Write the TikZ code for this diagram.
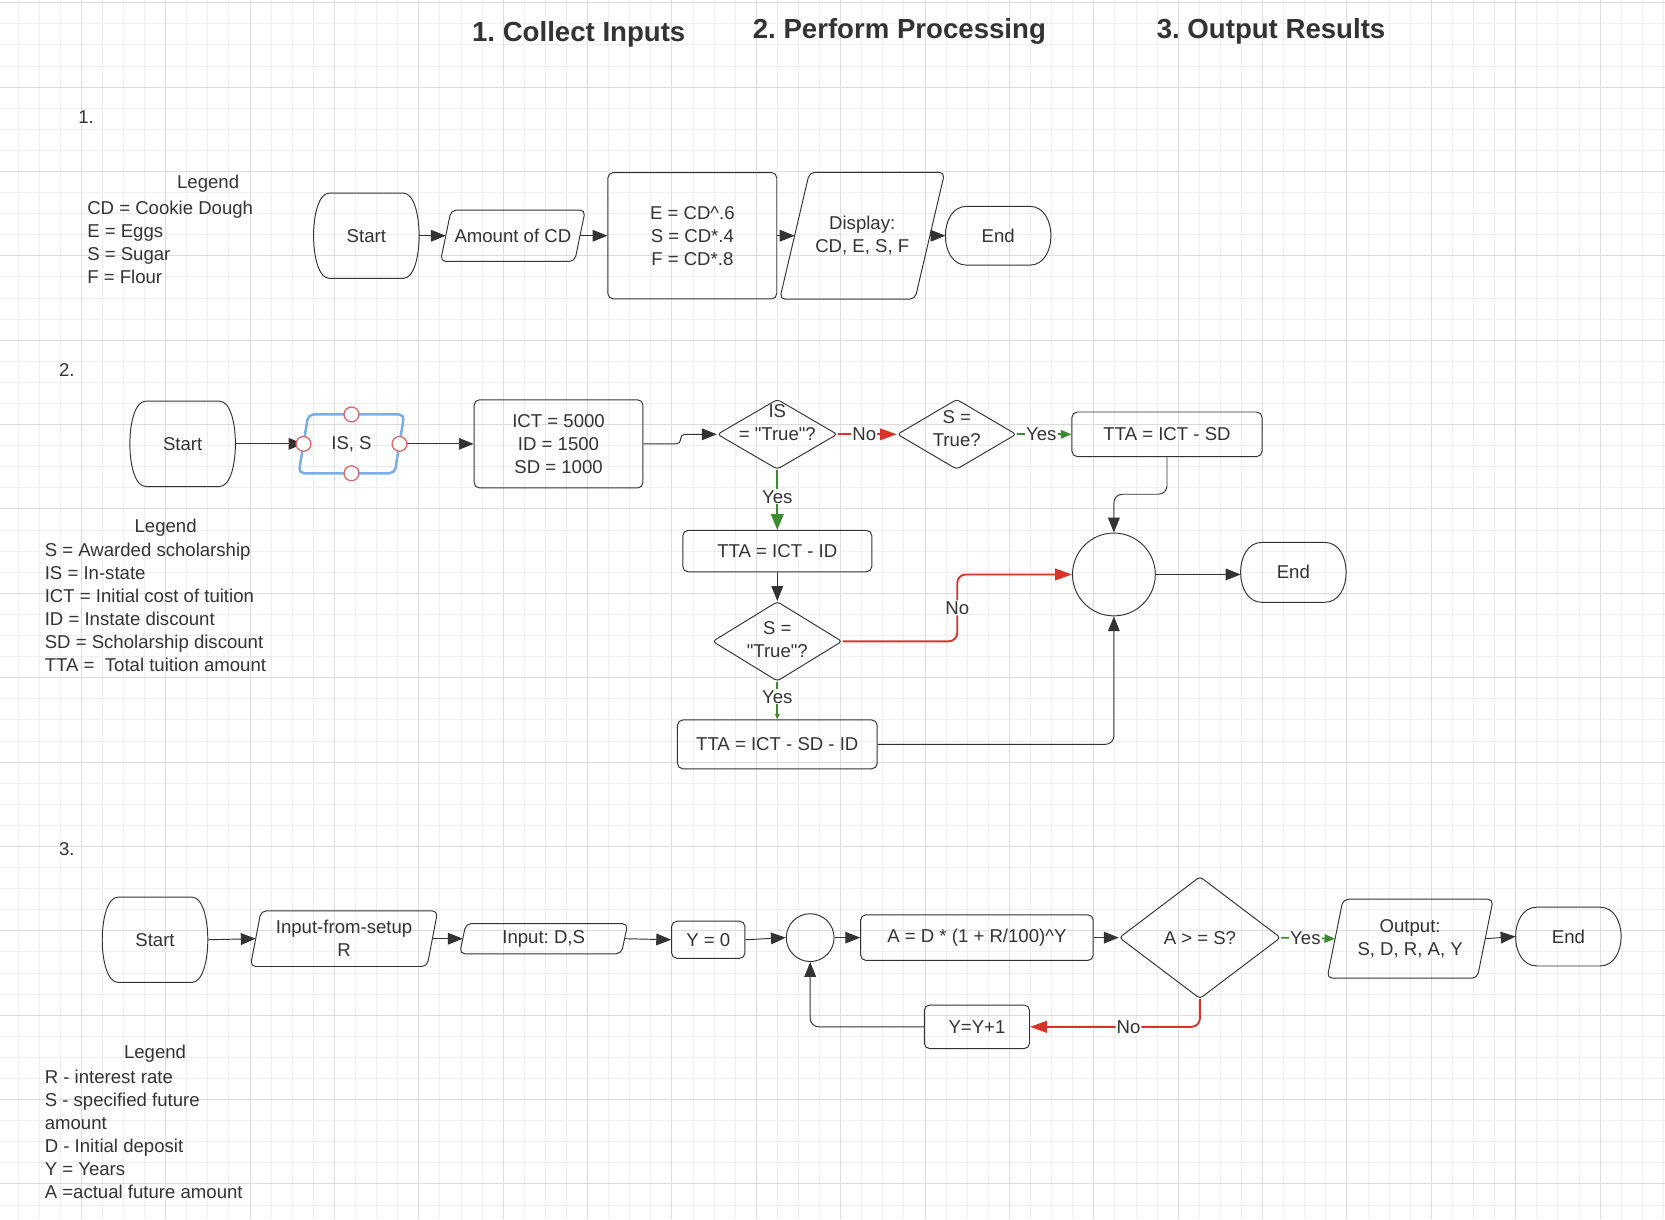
\documentclass[tikz,border=0pt]{standalone}
\usepackage{fontspec}
\setmainfont{Liberation Sans}
\newfontfamily\chartfont{Liberation Sans}
\usetikzlibrary{shapes.geometric}
\usetikzlibrary{arrows.meta}
\usetikzlibrary{calc}

\definecolor{linegray}{HTML}{333333}
\definecolor{textgray}{HTML}{333333}
\definecolor{nored}{HTML}{D9342B}
\definecolor{yesgreen}{HTML}{3D8B2F}
\definecolor{selblue}{HTML}{7AAEEB}
\definecolor{handlered}{HTML}{E06666}
\definecolor{gridminor}{HTML}{EEEEEE}
\definecolor{gridmajor}{HTML}{DCDCDC}

\tikzset{
  box/.style={draw=linegray, line width=0.9pt, text=textgray, align=center, inner sep=2pt},
  term/.style={rectangle, minimum width=99, text=textgray, align=center, inner sep=0pt},
  termline/.style={draw=linegray, line width=0.9pt},
  selected/.style={draw=selblue, line width=2.4pt},
  process/.style={box, rectangle, rounded corners=5},
  decision/.style={box, diamond, rounded corners=3, inner sep=0pt},
  junction/.style={box, circle, inner sep=0pt},
  note/.style={text=textgray, align=left, inner sep=0pt},
  title/.style={font=\chartfont\fontsize{26}{30}\selectfont\bfseries, text=textgray},
  flow/.style={draw=linegray, line width=0.9pt, -{Triangle[length=14pt, width=11pt]}},
  noflow/.style={draw=nored, line width=1.8pt, -{Triangle[length=16pt, width=11pt]}},
  yesflow/.style={draw=yesgreen, line width=1.6pt, -{Triangle[length=#1, width=0.8*#1]}},
  yesflow/.default=12pt,
  tag/.style={fill=white, text=textgray, inner sep=1pt},
  handle/.style={circle, draw=handlered, fill=white, line width=1.2pt, minimum size=14, inner sep=0pt},
  gridline/.style={draw=#1, line width=0.9pt},
}

% start/end shape: name, position, height, side bulge, text
\newcommand{\terminator}[5]{%
  \node[term, minimum height=#3] (#1) at (#2) {#5};
  \draw[termline] ($(#1.north west)+(#4,0)$) -- ($(#1.north east)+(-#4,0)$)
    to[out=0, in=0, distance={#4*4/3}] ($(#1.south east)+(-#4,0)$)
    -- ($(#1.south west)+(#4,0)$)
    to[out=180, in=180, distance={#4*4/3}] cycle;
}

% input/output shape: [outline style] name, position, width, height, slant, text
\newcommand{\slantbox}[7][]{%
  \node[term, minimum width={#4-#6}, minimum height=#5] (#2) at (#3) {#7};
  \draw[termline, rounded corners=5, #1] ($(#2.south west)+(-#6/2,0)$)
    -- ($(#2.north west)+(#6/2,0)$) -- ($(#2.north east)+(#6/2,0)$)
    -- ($(#2.south east)+(-#6/2,0)$) -- cycle;
}

\begin{document}
\frenchspacing
\begin{tikzpicture}[x=1pt, y=-1pt, font=\chartfont\fontsize{17.5}{21.7}\selectfont]
  \useasboundingbox (0,0) rectangle (1568,1148);
  \fill[white] (0,0) rectangle (1568,1148);

  % Grid
  \foreach \i in {0,...,79} {
    \draw[gridline=gridminor] ({-2.9+19.865*\i},0) -- ({-2.9+19.865*\i},1148);
  }
  \foreach \j in {0,...,57} {
    \draw[gridline=gridminor] (0,{2.54+19.865*\j}) -- (1568,{2.54+19.865*\j});
  }
  \foreach \i in {0,...,19} {
    \draw[gridline=gridmajor] ({-2.9+79.46*\i},0) -- ({-2.9+79.46*\i},1148);
  }
  \foreach \j in {0,...,14} {
    \draw[gridline=gridmajor] (0,{2.54+79.46*\j}) -- (1568,{2.54+79.46*\j});
  }

  % Headings
  \node[title] (title_inputs) at (545,32) {1. Collect Inputs};
  \node[title] (title_processing) at (847,30) {2. Perform Processing};
  \node[title] (title_output) at (1197,30) {3. Output Results};

  \node[note] (num_1) at (81,110) {1.};
  \node[note] (num_2) at (63,348) {2.};
  \node[note] (num_3) at (63,800) {3.};

  % Legends
  \node[note] (legend_1_head) at (196,173) {Legend};
  \node[note, anchor=west] (legend_1) at (82,228) {CD = Cookie Dough\\E = Eggs\\S = Sugar\\F = Flour};
  \node[note] (legend_2_head) at (156,497) {Legend};
  \node[note, anchor=west] (legend_2) at (42,572) {S = Awarded scholarship\\IS = In-state\\ICT = Initial cost of tuition\\ID = Instate discount\\SD = Scholarship discount\\TTA =\ \ Total tuition amount};
  \node[note] (legend_3_head) at (146,992) {Legend};
  \node[note, anchor=west] (legend_3) at (42,1068) {R - interest rate\\S - specified future\\amount\\D - Initial deposit\\Y = Years\\A =actual future amount};

  % Flow 1
  \terminator{start_1}{345,222}{80}{15}{Start}
  \slantbox{amount_cd}{483,222}{136}{48}{10}{Amount of CD}
  \node[process, minimum width=159, minimum height=119] (calc_1) at (652,222) {E = CD\textasciicircum.6\\S = CD*.4\\F = CD*.8};
  \slantbox{display_1}{812,222}{155}{119}{28}{Display:\\CD, E, S, F}
  \terminator{end_1}{940,222}{55}{20}{End}

  \draw[flow] (start_1.east) -- (amount_cd.west);
  \draw[flow] (amount_cd.east) -- (calc_1.west);
  \draw[flow] (calc_1.east) -- (display_1.west);
  \draw[flow] (display_1.east) -- (end_1.west);

  % Flow 2
  \terminator{start_2}{172,418}{80}{15}{Start}
  \slantbox[selected]{in_is_s}{331,418}{99}{55}{9}{IS, S}
  \node[process, minimum width=159, minimum height=83] (costs) at (526,418) {ICT = 5000\\ID = 1500\\SD = 1000};
  \node[decision, minimum width=113, minimum height=66] (is_check) at (732,409) {};
  \node[note, align=center] (is_check_text) at (732,398) {IS\\= "True"?};
  \node[decision, minimum width=112, minimum height=66] (s_check_a) at (901,409) {};
  \node[note, align=center] (s_check_a_text) at (901,404) {S =\\True?};
  \node[process, minimum width=179, minimum height=42] (tta_sd) at (1099,409) {TTA = ICT - SD};
  \node[process, minimum width=178, minimum height=39] (tta_id) at (732,519) {TTA = ICT - ID};
  \node[decision, minimum width=122, minimum height=75] (s_check_b) at (732,604) {};
  \node[note, align=center] (s_check_b_text) at (732,602) {S =\\"True"?};
  \node[process, minimum width=188, minimum height=46] (tta_sd_id) at (732,701) {TTA = ICT - SD - ID};
  \node[junction, minimum size=78] (merge_2) at (1049,541) {};
  \terminator{end_2}{1218,539}{56}{20}{End}

  \draw[flow] (start_2.east) -- (in_is_s.west);
  \draw[flow] (in_is_s.east) -- (costs.west);
  \draw[flow, rounded corners=4] (costs.east) -- ++(35,0) |- (is_check.west);
  \draw[noflow] (is_check.east) -- node[tag, pos=0.45] {No} (s_check_a.west);
  \draw[yesflow=10pt] (s_check_a.east) -- node[tag, pos=0.45] {Yes} (tta_sd.west);
  \draw[yesflow=15pt] (is_check.south) -- node[tag, pos=0.45] {Yes} (tta_id.north);
  \draw[flow] (tta_id.south) -- (s_check_b.north);
  \draw[noflow, rounded corners=8] (s_check_b.east) -- ++(108,0) |- node[tag, pos=0.25] {No} (merge_2.west);
  \draw[yesflow=5pt] (s_check_b.south) -- node[tag, pos=0.4] {Yes} (tta_sd_id.north);
  \draw[flow, rounded corners=8] (tta_sd.south) -- ++(0,35) -| (merge_2.north);
  \draw[flow, rounded corners=8] (tta_sd_id.east) -| (merge_2.south);
  \draw[flow] (merge_2.east) -- (merge_2.east -| end_2.west);

  % selection handles on the input box
  \foreach \side in {north,south,east,west} {
    \node[handle] (in_is_s_\side) at (in_is_s.\side) {};
  }

  % Flow 3
  \terminator{start_3}{146,885}{80}{15}{Start}
  \slantbox{setup_r}{324,884}{176}{52}{10}{Input-from-setup\\R}
  \slantbox{input_ds}{512,884}{158}{28}{6}{Input: D,S}
  \node[process, minimum width=69, minimum height=35] (year_zero) at (667,885) {Y = 0};
  \node[junction, minimum size=45] (loop_3) at (763,883) {};
  \node[process, minimum width=219, minimum height=43] (amount_calc) at (920,883) {A = D * (1 + R/100)\textasciicircum Y};
  \node[decision, minimum width=152, minimum height=115] (goal_check) at (1130,883) {A > = S?};
  \slantbox{output_3}{1328,884}{156}{74}{15}{Output:\\S, D, R, A, Y}
  \terminator{end_3}{1477,882}{55}{20}{End}
  \node[process, minimum width=99, minimum height=41] (year_next) at (920,967) {Y=Y+1};

  \draw[flow] (start_3.east) -- (setup_r.west);
  \draw[flow] (setup_r.east) -- (input_ds.west);
  \draw[flow] (input_ds.east) -- (year_zero.west);
  \draw[flow] (year_zero.east) -- (loop_3.west);
  \draw[flow] (loop_3.east) -- (amount_calc.west);
  \draw[flow] (amount_calc.east) -- (goal_check.west);
  \draw[yesflow=10pt] (goal_check.east) -- node[tag, pos=0.45] {Yes} (output_3.west);
  \draw[flow] (output_3.east) -- (end_3.west);
  \draw[noflow, rounded corners=8] (goal_check.south) |- node[tag, pos=0.71] {No} (year_next.east);
  \draw[flow, rounded corners=8] (year_next.west) -| (loop_3.south);
\end{tikzpicture}
\end{document}
